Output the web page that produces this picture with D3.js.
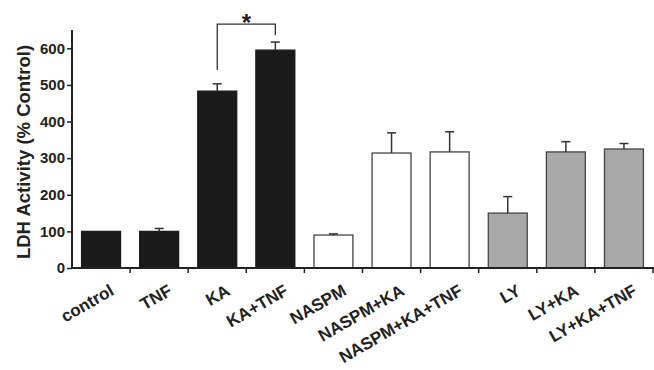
<!DOCTYPE html>
<html><head><meta charset="utf-8">
<script src="https://cdn.jsdelivr.net/npm/d3@7"></script>
<style>body{margin:0;background:#fff}svg{display:block}text{font-family:"Liberation Sans",Arial,sans-serif;font-weight:bold}</style>
</head><body>
<svg id="c" width="654" height="370"></svg>
<script>
const categories = ["control","TNF","KA","KA+TNF","NASPM","NASPM+KA","NASPM+KA+TNF","LY","LY+KA","LY+KA+TNF"];
const values = [100,100,483,595,90,314,317,150,317,325];
const errors = [0,8,20,22,3,55,55,45,28,15];
const groups = ["black","black","black","black","white","white","white","gray","gray","gray"];
const yTicks = [0,100,200,300,400,500,600];
const fills = {black:"#1a1a1a", white:"#ffffff", gray:"#a9a9a9"};

const svg = d3.select("#c");
const mLeft = 72, mRight = 653, mTop = 30, mBottom = 268;
const x = d3.scaleBand().domain(categories).range([mLeft, mRight]).paddingInner(0.33).paddingOuter(0.165);
const y = d3.scaleLinear().domain([0,650]).range([mBottom, mTop]);

// bars
svg.append("g").selectAll("rect").data(categories).join("rect")
  .attr("x", d => x(d)).attr("width", x.bandwidth())
  .attr("y", (d,i) => y(values[i])).attr("height", (d,i) => y(0) - y(values[i]))
  .attr("fill", (d,i) => fills[groups[i]])
  .attr("stroke", (d,i) => groups[i]==="black" ? "#1a1a1a" : "#444").attr("stroke-width", 1.3);

// error bars (upper only)
const eg = svg.append("g").attr("stroke", "#333").attr("stroke-width", 1.5);
categories.forEach((c,i) => {
  if (!errors[i]) return;
  const cx = x(c) + x.bandwidth()/2;
  eg.append("line").attr("x1", cx).attr("x2", cx).attr("y1", y(values[i])).attr("y2", y(values[i]+errors[i]));
  eg.append("line").attr("x1", cx-4.5).attr("x2", cx+4.5).attr("y1", y(values[i]+errors[i])).attr("y2", y(values[i]+errors[i]));
});

// y axis
const ya = svg.append("g").attr("transform", `translate(${mLeft},0)`)
  .call(d3.axisLeft(y).tickValues(yTicks).tickSize(5).tickPadding(2).tickSizeOuter(0));
ya.select(".domain").attr("stroke", "#222").attr("stroke-width", 2).attr("d", `M0,${mTop}V${mBottom+1}`);
ya.selectAll(".tick line").attr("stroke", "#222").attr("stroke-width", 1.5);
ya.selectAll(".tick text").attr("font-size", 15).attr("fill", "#222")
  .attr("font-family", '"Liberation Sans",Arial,sans-serif').attr("font-weight", "bold");

// x axis
const xa = svg.append("g").attr("transform", `translate(0,${mBottom})`);
xa.append("line").attr("x1", mLeft).attr("x2", 654).attr("y1", 0).attr("y2", 0).attr("stroke", "#222").attr("stroke-width", 2);
d3.range(1, categories.length+1).forEach(k => {
  const tx = mLeft + k*(mRight-mLeft)/categories.length;
  xa.append("line").attr("x1", tx).attr("x2", tx).attr("y1", 0).attr("y2", 5).attr("stroke", "#222").attr("stroke-width", 1.5);
});
svg.append("g").selectAll("text").data(categories).join("text")
  .attr("transform", d => `translate(${x(d)+x.bandwidth()/2+14},${mBottom+26}) rotate(-30)`)
  .attr("text-anchor", "end").attr("font-size", 17).attr("fill", "#222").text(d => d);

// y label
svg.append("text").attr("transform", `translate(30,${(mTop+mBottom)/2+3}) rotate(-90)`)
  .attr("text-anchor", "middle").attr("font-size", 18.5).attr("fill", "#222").text("LDH Activity (% Control)");

// significance bracket
const x1 = x("KA") + x.bandwidth()/2, x2 = x("KA+TNF") + x.bandwidth()/2;
svg.append("path").attr("fill", "none").attr("stroke", "#333").attr("stroke-width", 1.3)
  .attr("d", `M${x1},${y(541)}V${y(666)}H${x2}V${y(636)}`);
svg.append("text").attr("x", (x1+x2)/2).attr("y", 31).attr("text-anchor", "middle").attr("font-size", 24).attr("fill", "#222").text("*");
</script>
</body></html>
